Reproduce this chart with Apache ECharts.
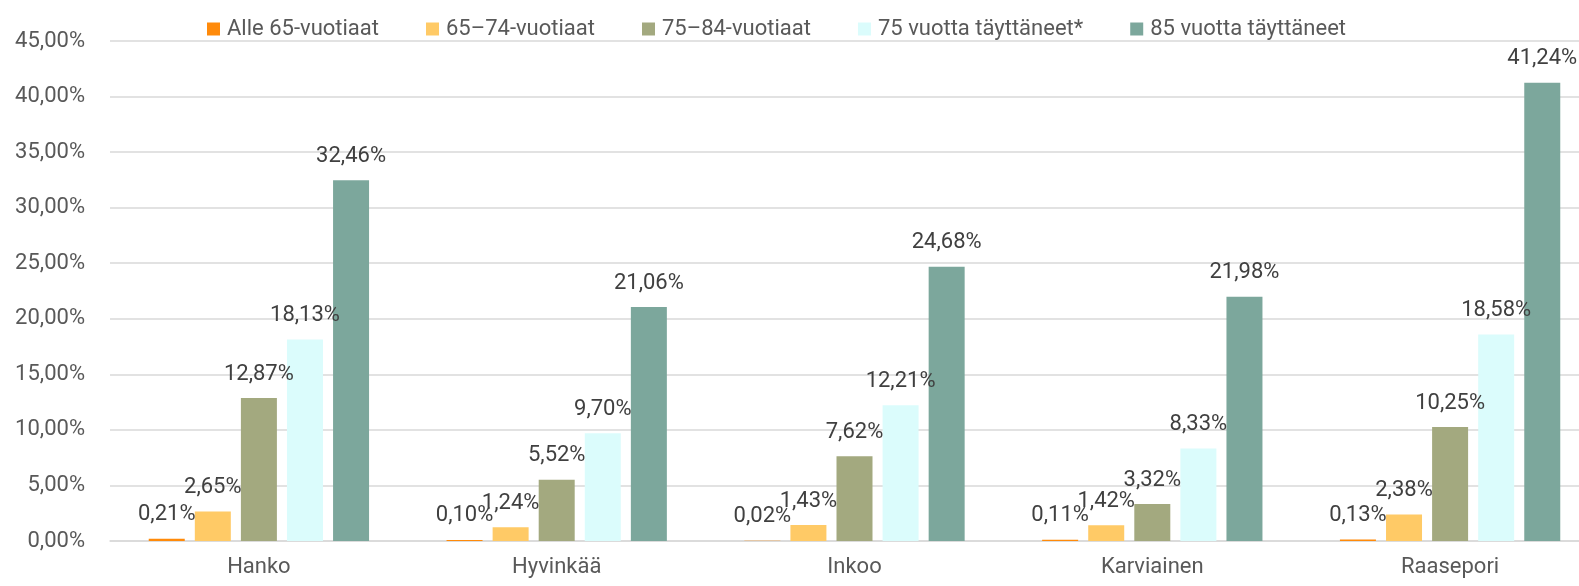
<!DOCTYPE html>
<html>
<head>
<meta charset="utf-8">
<script src="https://cdn.jsdelivr.net/npm/echarts@6/dist/echarts.min.js"></script>
<style>
  html, body { margin: 0; padding: 0; background: #fff; }
  #chart { width: 1579px; height: 586px; }
</style>
</head>
<body>
<div id="chart"></div>
<script>
// kunnat ja ikäryhmät
const categories = ['Hanko', 'Hyvinkää', 'Inkoo', 'Karviainen', 'Raasepori'];
const seriesNames = ['Alle 65-vuotiaat', '65–74-vuotiaat', '75–84-vuotiaat', '75 vuotta täyttäneet*', '85 vuotta täyttäneet'];

// arvot prosentteina
const alle65 = [0.21, 0.10, 0.02, 0.11, 0.13];
const v65_74 = [2.65, 1.24, 1.43, 1.42, 2.38];
const v75_84 = [12.87, 5.52, 7.62, 3.32, 10.25];
const v75plus = [18.13, 9.70, 12.21, 8.33, 18.58];
const v85plus = [32.46, 21.06, 24.68, 21.98, 41.24];

const yTicks = [0, 5, 10, 15, 20, 25, 30, 35, 40, 45];

const colors = ['#FF8A0A', '#FFCA66', '#A3A97F', '#DBFCFC', '#7CA79C'];
const allData = [alle65, v65_74, v75_84, v75plus, v85plus];

const pct = v => v.toFixed(2).replace('.', ',') + '%';
const font = 'Roboto';

const chart = echarts.init(document.getElementById('chart'));
chart.setOption({
  animation: false,
  textStyle: { fontFamily: font },
  legend: {
    left: 202,
    top: 13,
    itemWidth: 13,
    itemHeight: 13,
    itemGap: 47,
    icon: 'rect',
    textStyle: { fontSize: 22, color: '#595959', fontFamily: font, padding: [0, 0, 0, 2] },
    data: seriesNames
  },
  // kaavio jatkuu hieman kuvan oikean reunan yli
  grid: { left: 110, width: 1489, top: 41, bottom: 45, outerBoundsMode: 'none' },
  xAxis: {
    type: 'category',
    data: categories,
    axisLine: { lineStyle: { color: '#d9d9d9', width: 1.5 } },
    axisTick: { show: false },
    axisLabel: { fontSize: 22, color: '#595959', margin: 15 }
  },
  yAxis: {
    type: 'value',
    min: yTicks[0],
    max: yTicks[yTicks.length - 1],
    interval: 5,
    axisLine: { show: false },
    axisTick: { show: false },
    splitLine: { lineStyle: { color: '#d9d9d9', width: 1.5 } },
    axisLabel: { fontSize: 22, color: '#595959', margin: 25, formatter: v => pct(v) }
  },
  series: seriesNames.map((name, i) => ({
    name: name,
    type: 'bar',
    data: allData[i],
    barWidth: 36,
    barGap: '28%',
    itemStyle: { color: colors[i] },
    label: {
      show: true,
      position: 'top',
      distance: 13,
      fontSize: 22,
      color: '#404040',
      fontFamily: font,
      formatter: p => pct(p.value)
    }
  }))
});
</script>
</body>
</html>
